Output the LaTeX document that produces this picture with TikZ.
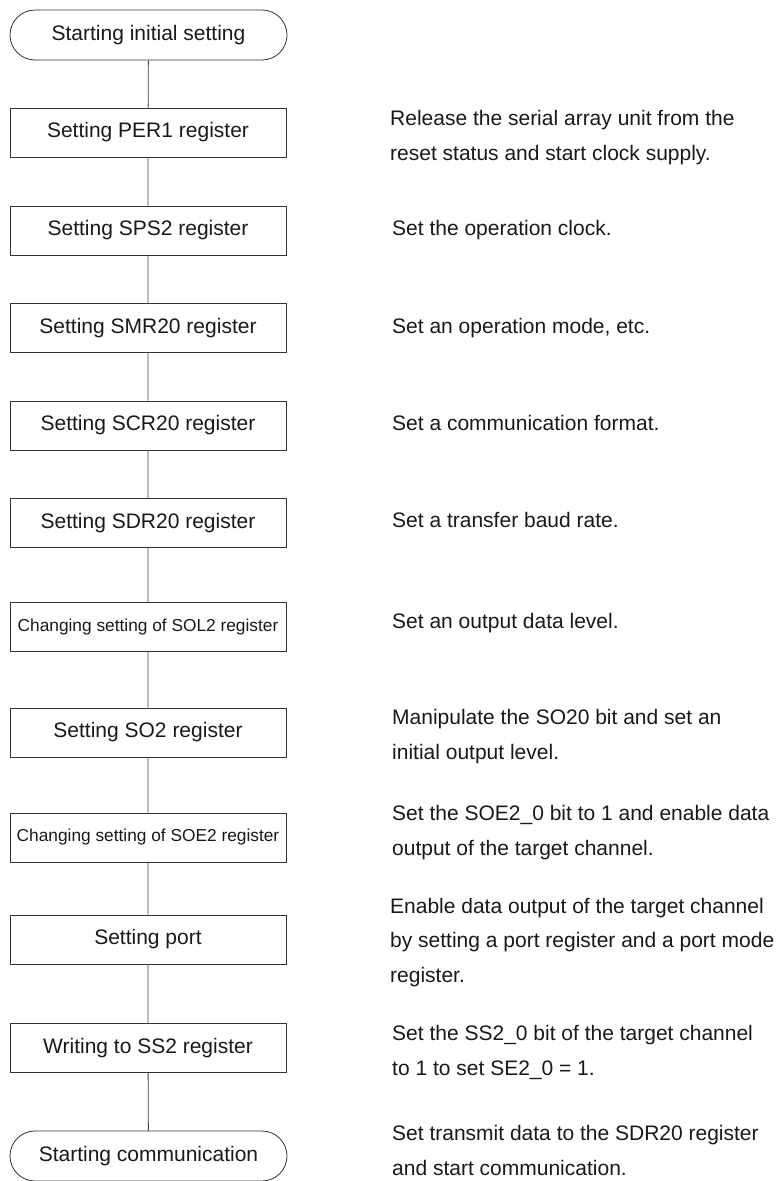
\documentclass[tikz,border=0pt]{standalone}
\usepackage{fontspec}
\setmainfont{Liberation Sans}
\begin{document}
\begin{tikzpicture}[x=1pt,y=-1pt,
  box/.style={draw=black!80, line width=0.8pt, minimum width=276pt, minimum height=49pt, inner sep=0pt, text=black!90, font=\fontsize{21}{25}\selectfont},
  smallbox/.style={box, font=\fontsize{17.3}{21}\selectfont},
  term/.style={box, minimum width=277pt, minimum height=50pt, rounded corners=25pt},
  note/.style={anchor=base west, align=left, inner sep=0pt, text=black!90, font=\fontsize{21}{34.5}\selectfont},
  conn/.style={draw=black!75, line width=0.8pt}]
\useasboundingbox (0,0) rectangle (782,1181);

\node[term] (start) at (148.5,35) {Starting initial setting};
\node[box] (per1) at (148,132.5) {Setting PER1 register};
\node[box] (sps2) at (148,230.5) {Setting SPS2 register};
\node[box] (smr20) at (148,328) {Setting SMR20 register};
\node[box] (scr20) at (148,425.5) {Setting SCR20 register};
\node[box] (sdr20) at (148,523) {Setting SDR20 register};
\node[smallbox] (sol2) at (148,627) {Changing setting of SOL2 register};
\node[box] (so2) at (148,732.5) {Setting SO2 register};
\node[smallbox] (soe2) at (148,837.5) {Changing setting of SOE2 register};
\node[box] (port) at (148,939.5) {Setting port};
\node[box] (ss2) at (148,1048) {Writing to SS2 register};
\node[term] (comm) at (148.5,1156) {Starting communication};

\path[conn] (start) -- (per1) -- (sps2) -- (smr20) -- (scr20) -- (sdr20) -- (sol2) -- (so2) -- (soe2) -- (port) -- (ss2) -- (comm);

% base anchor of a multi-line note is the baseline of its last line
\node[note] (n1) at (390,160) {Release the serial array unit from the\\reset status and start clock supply.};
\node[note] (n2) at (392,235) {Set the operation clock.};
\node[note] (n3) at (392,333) {Set an operation mode, etc.};
\node[note] (n4) at (392,430) {Set a communication format.};
\node[note] (n5) at (392,527) {Set a transfer baud rate.};
\node[note] (n6) at (392,628) {Set an output data level.};
\node[note] (n7) at (392,759) {Manipulate the SO20 bit and set an\\initial output level.};
\node[note] (n8) at (392,855) {Set the SOE2\_0 bit to 1 and enable data\\output of the target channel.};
\node[note] (n9) at (390,982) {Enable data output of the target channel\\by setting a port register and a port mode\\register.};
\node[note] (n10) at (392,1075) {Set the SS2\_0 bit of the target channel\\to 1 to set SE2\_0 = 1.};
\node[note] (n11) at (392,1175) {Set transmit data to the SDR20 register\\and start communication.};
\end{tikzpicture}
\end{document}
